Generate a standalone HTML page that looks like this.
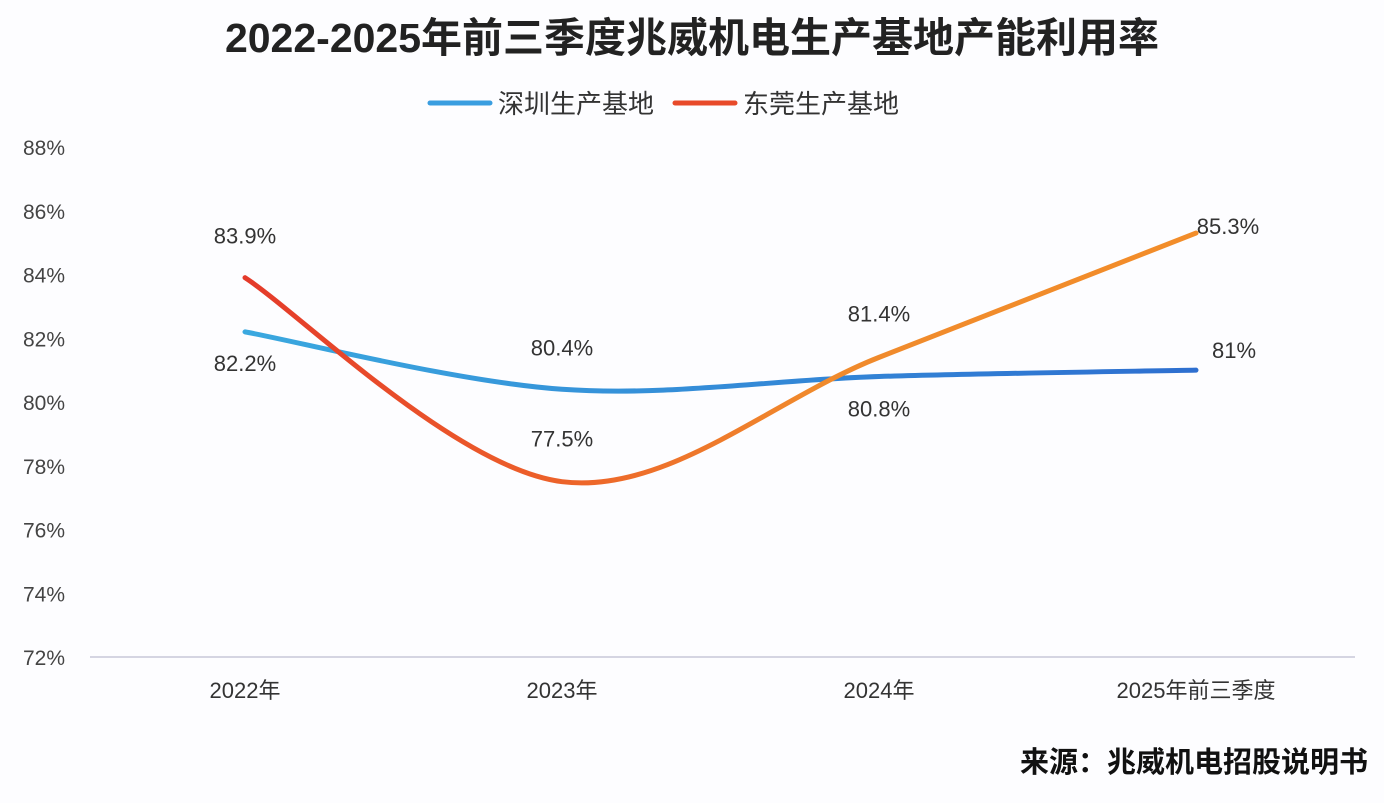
<!DOCTYPE html>
<html><head><meta charset="utf-8"><style>
html,body{margin:0;padding:0;background:#fdfdff;}
svg text{font-family:"Liberation Sans","Noto Sans CJK SC",sans-serif;}
</style></head><body>
<svg id="c" width="1384" height="798" xmlns="http://www.w3.org/2000/svg">
<defs>
<linearGradient id="gb" gradientUnits="userSpaceOnUse" x1="245" x2="1196" y1="0" y2="0"><stop offset="0" stop-color="#3aa8df"/><stop offset="1" stop-color="#2e6fd0"/></linearGradient>
<linearGradient id="go" gradientUnits="userSpaceOnUse" x1="245" x2="1196" y1="0" y2="0"><stop offset="0" stop-color="#e43a2a"/><stop offset="0.3" stop-color="#ec5e2a"/><stop offset="0.6" stop-color="#f08a2c"/><stop offset="1" stop-color="#f28d2a"/></linearGradient>
</defs>
<text x="692" y="52" text-anchor="middle" font-size="41" font-weight="bold" fill="#222">2022-2025年前三季度兆威机电生产基地产能利用率</text>
<g><line x1="430" y1="103" x2="490" y2="103" stroke="#3a9ee0" stroke-width="5" stroke-linecap="round"/><text x="498" y="113" font-size="26" fill="#333">深圳生产基地</text></g>
<g><line x1="675" y1="103" x2="735" y2="103" stroke="#e84a2a" stroke-width="5" stroke-linecap="round"/><text x="743" y="113" font-size="26" fill="#333">东莞生产基地</text></g>
<g id="yax"></g>
<g id="xax"></g>
<g id="series"></g>
<text x="1368" y="772" text-anchor="end" font-size="29" font-weight="bold" fill="#111">来源：兆威机电招股说明书</text>
</svg>
<script>
const categories=["2022年","2023年","2024年","2025年前三季度"];
const shenzhen=[82.2,80.4,80.8,81.0];
const dongguan=[83.9,77.5,81.4,85.3];
const shenzhenLabels=["82.2%","80.4%","80.8%","81%"];
const dongguanLabels=["83.9%","77.5%","81.4%","85.3%"];
const yTicks=[72,74,76,78,80,82,84,86,88];
const NS="http://www.w3.org/2000/svg";
const x=i=>245+i*317;
const y=v=>657-(v-72)*31.875;
function mk(t,a,p){const e=document.createElementNS(NS,t);for(const k in a)e.setAttribute(k,a[k]);p.appendChild(e);return e;}
const yax=document.getElementById('yax'),xax=document.getElementById('xax'),ser=document.getElementById('series');
yTicks.forEach(v=>{const t=mk('text',{x:44,y:y(v)+8,'text-anchor':'middle','font-size':21,fill:'#444'},yax);t.textContent=v+'%';

});
const ax=mk('line',{x1:90,y1:657,x2:1355,y2:657,stroke:'#c8c8d8','stroke-width':1.5},xax);


categories.forEach((c,i)=>{const t=mk('text',{x:x(i),y:698,'text-anchor':'middle','font-size':22,fill:'#333'},xax);t.textContent=c;

});
function path(vals){const p=vals.map((v,i)=>[x(i),y(v)]);let d=`M${p[0][0]},${p[0][1]}`;
for(let i=0;i<p.length-1;i++){const p0=p[i-1]||p[i],p1=p[i],p2=p[i+1],p3=p[i+2]||p2;const k=0.5/3;
const c1=[p1[0]+(p2[0]-p0[0])*k,p1[1]+(p2[1]-p0[1])*k],c2=[p2[0]-(p3[0]-p1[0])*k,p2[1]-(p3[1]-p1[1])*k];
d+=` C${c1[0]},${c1[1]} ${c2[0]},${c2[1]} ${p2[0]},${p2[1]}`;}return d;}
const lb=mk('path',{d:path(shenzhen),fill:'none',stroke:'url(#gb)','stroke-width':5,'stroke-linecap':'round'},ser);


const lo=mk('path',{d:path(dongguan),fill:'none',stroke:'url(#go)','stroke-width':5,'stroke-linecap':'round'},ser);


const sOff=[[0,31],[0,-42],[0,32],[38,-20]];
const dOff=[[0,-42],[0,-43],[0,-44],[32,-7]];
function lab(vals,labels,off,name){vals.forEach((v,i)=>{const t=mk('text',{x:x(i)+off[i][0],y:y(v)+off[i][1]+8,'text-anchor':'middle','font-size':22,fill:'#333'},ser);t.textContent=labels[i];

});}
lab(shenzhen,shenzhenLabels,sOff,'data-label-shenzhen');
lab(dongguan,dongguanLabels,dOff,'data-label-dongguan');
</script>
</body></html>
